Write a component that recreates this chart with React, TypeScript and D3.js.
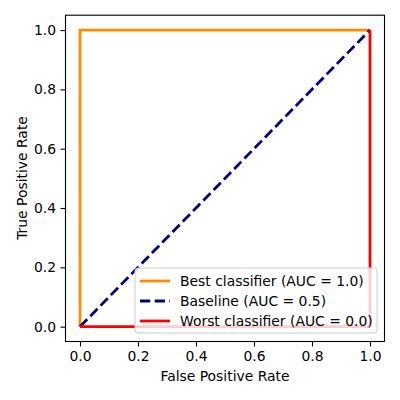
import { useEffect, useRef } from 'react'
import * as d3 from 'd3'

// curves: [fpr, tpr] points
const bestFpr = [0, 0, 1]
const bestTpr = [0, 1, 1]
const baseFpr = [0, 1]
const baseTpr = [0, 1]
const worstFpr = [0, 1, 1]
const worstTpr = [0, 0, 1]

const seriesNames = ['Best classifier (AUC = 1.0)', 'Baseline (AUC = 0.5)', 'Worst classifier (AUC = 0.0)']
const seriesColors = ['#ff8c00', '#000080', '#ff0000']
const ticks = [0, 0.2, 0.4, 0.6, 0.8, 1.0]

const App = () => {
  const ref = useRef<SVGSVGElement>(null)

  useEffect(() => {
    const svg = d3.select(ref.current)
    svg.selectAll('*').remove()

    const x = d3.scaleLinear().domain([-0.05, 1.05]).range([65.5, 384.5])
    const y = d3.scaleLinear().domain([-0.05, 1.05]).range([341.5, 15.2])
    const font = 'DejaVu Sans, sans-serif'
    const fs = 13.9
    const lw = 2.8

    const line = d3.line<[number, number]>()
      .x(d => x(d[0]))
      .y(d => y(d[1]))

    const series: [number, number][][] = [
      bestFpr.map((v, i) => [v, bestTpr[i]]),
      baseFpr.map((v, i) => [v, baseTpr[i]]),
      worstFpr.map((v, i) => [v, worstTpr[i]]),
    ]

    const plot = svg.append('g')
    series.forEach((pts, i) => {
      plot.append('path')
        .attr('d', line(pts))
        .attr('fill', 'none')
        .attr('stroke', seriesColors[i])
        .attr('stroke-width', lw)
        .attr('stroke-dasharray', i === 1 ? '10.3,4.4' : null)
    })

    // X axis
    svg.append('g')
      .attr('transform', 'translate(0,341.5)')
      .call(d3.axisBottom(x).tickValues(ticks).tickFormat(d3.format('.1f')).tickSize(5).tickPadding(4.5))
      .call(g => g.select('.domain').remove())
      .call(g => g.selectAll('text').attr('font-size', fs).attr('font-family', font).attr('fill', '#000'))
      .call(g => g.selectAll('line').attr('stroke', '#000').attr('stroke-width', 1.1))

    // Y axis
    svg.append('g')
      .attr('transform', 'translate(65.5,0)')
      .call(d3.axisLeft(y).tickValues(ticks).tickFormat(d3.format('.1f')).tickSize(5).tickPadding(4.5))
      .call(g => g.select('.domain').remove())
      .call(g => g.selectAll('text').attr('font-size', fs).attr('font-family', font).attr('fill', '#000'))
      .call(g => g.selectAll('line').attr('stroke', '#000').attr('stroke-width', 1.1))

    // frame
    svg.append('rect')
      .attr('x', 65.5).attr('y', 15.2)
      .attr('width', 319).attr('height', 326.3)
      .attr('fill', 'none').attr('stroke', '#000').attr('stroke-width', 1.1)

    // labels
    svg.append('text')
      .attr('x', 225).attr('y', 381)
      .attr('text-anchor', 'middle')
      .attr('font-size', fs).attr('font-family', font)
      .text('False Positive Rate')
    svg.append('text')
      .attr('transform', 'translate(27,178) rotate(-90)')
      .attr('text-anchor', 'middle')
      .attr('font-size', fs).attr('font-family', font)
      .text('True Positive Rate')

    // legend
    const lg = svg.append('g').attr('transform', 'translate(135,268)')
    lg.append('rect')
      .attr('width', 242).attr('height', 65)
      .attr('rx', 3)
      .attr('fill', 'white').attr('fill-opacity', 0.8)
      .attr('stroke', '#cccccc').attr('stroke-width', 1)
    seriesNames.forEach((name, i) => {
      const yy = 13 + i * 20
      lg.append('line')
        .attr('x1', 5).attr('x2', 35)
        .attr('y1', yy).attr('y2', yy)
        .attr('stroke', seriesColors[i])
        .attr('stroke-width', lw)
        .attr('stroke-dasharray', i === 1 ? '10.3,4.4' : null)
      lg.append('text')
        .attr('x', 45).attr('y', yy)
        .attr('dy', '0.35em')
        .attr('font-size', fs).attr('font-family', font)
        .text(name)
    })
  }, [])

  return (
    <svg ref={ref} width={400} height={400} style={{ position: 'absolute', left: 0, top: 0 }} />
  )
}

export default App
